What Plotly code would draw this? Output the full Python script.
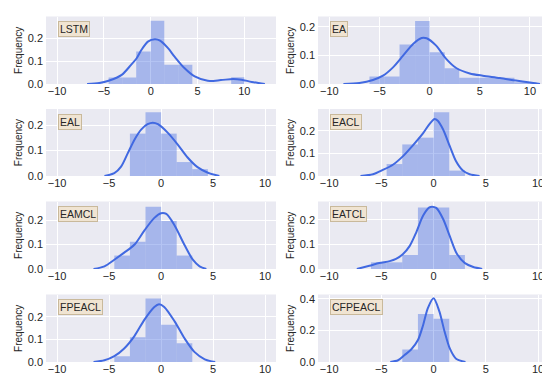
import plotly.graph_objects as go

# ---------------- data ----------------
names = ["LSTM", "EA", "EAL", "EACL", "EAMCL", "EATCL", "FPEACL", "CFPEACL"]

# histogram bin edges / densities
lstm_edges = [-4.5, -3.0, -1.55, 0.0, 1.45, 2.95, 4.45, 8.6, 10.0]
lstm_hist = [0.029, 0.029, 0.142, 0.277, 0.084, 0.084, 0.0, 0.03]
ea_edges = [-6.0, -4.5, -3.0, -1.45, 0.0, 1.5, 2.95, 8.45, 10.65]
ea_hist = [0.026, 0.026, 0.138, 0.22, 0.111, 0.055, 0.022, 0.006]
eal_edges = [-3.0, -1.5, 0.0, 1.5, 3.0, 4.5]
eal_hist = [0.167, 0.251, 0.167, 0.055, 0.027]
eacl_edges = [-4.5, -3.0, -1.5, 0.0, 1.5, 3.0]
eacl_hist = [0.053, 0.14, 0.17, 0.283, 0.024]
eamcl_edges = [-4.5, -3.0, -1.5, 0.0, 1.5, 3.0]
eamcl_hist = [0.055, 0.111, 0.255, 0.196, 0.055]
eatcl_edges = [-6.0, -4.5, -3.0, -1.5, 0.0, 1.5, 3.0]
eatcl_hist = [0.027, 0.027, 0.057, 0.25, 0.25, 0.057]
fpeacl_edges = [-4.5, -3.0, -1.5, 0.0, 1.5, 3.0]
fpeacl_hist = [0.026, 0.11, 0.281, 0.165, 0.083]
cfpeacl_edges = [-3.0, -1.5, 0.0, 1.5]
cfpeacl_hist = [0.079, 0.304, 0.274]

# KDE curves
lstm_kde_x = [-6.8, -5.5, -4.5, -3.1, -2.1, -1.5, -1.0, -0.3, 0.45, 1.0, 1.85, 2.55, 3.6, 4.7, 6.1, 7.5, 8.8, 9.7, 10.8, 12.2]
lstm_kde_y = [0.0, 0.004, 0.014, 0.04, 0.084, 0.113, 0.149, 0.186, 0.196, 0.19, 0.157, 0.12, 0.07, 0.033, 0.014, 0.017, 0.022, 0.019, 0.009, 0.0]
ea_kde_x = [-8.6, -7.0, -5.65, -4.65, -3.65, -2.65, -1.65, -0.8, -0.3, 0.65, 1.65, 2.65, 4.0, 5.3, 7.0, 8.6, 10.0, 11.0]
ea_kde_y = [0.0, 0.0035, 0.014, 0.029, 0.058, 0.099, 0.14, 0.161, 0.16, 0.134, 0.088, 0.056, 0.037, 0.029, 0.021, 0.012, 0.005, 0.0]
eal_kde_x = [-5.45, -4.5, -3.85, -3.2, -2.55, -1.9, -1.3, -0.8, -0.3, 0.65, 1.6, 2.55, 3.5, 4.5, 5.6]
eal_kde_y = [0.0, 0.011, 0.037, 0.09, 0.144, 0.184, 0.204, 0.21, 0.204, 0.17, 0.124, 0.073, 0.035, 0.013, 0.0]
eacl_kde_x = [-7.0, -5.8, -4.85, -3.9, -2.95, -2.0, -1.0, -0.4, 0.1, 0.4, 0.9, 1.55, 2.15, 2.8, 3.45, 4.4]
eacl_kde_y = [0.0, 0.0075, 0.027, 0.05, 0.087, 0.135, 0.19, 0.23, 0.253, 0.245, 0.207, 0.132, 0.065, 0.024, 0.0075, 0.0]
eamcl_kde_x = [-6.5, -5.45, -4.5, -3.55, -2.55, -1.6, -0.65, 0.0, 0.5, 1.3, 2.25, 3.05, 3.7, 4.35]
eamcl_kde_y = [0.0, 0.011, 0.038, 0.067, 0.1, 0.158, 0.209, 0.228, 0.225, 0.178, 0.098, 0.038, 0.011, 0.0]
eatcl_kde_x = [-7.35, -6.15, -5.2, -4.2, -3.6, -2.95, -2.3, -1.65, -1.0, -0.4, -0.15, 0.25, 0.9, 1.55, 2.2, 3.0, 3.8, 4.65]
eatcl_kde_y = [0.0, 0.013, 0.024, 0.032, 0.041, 0.06, 0.093, 0.15, 0.217, 0.25, 0.253, 0.248, 0.204, 0.133, 0.064, 0.024, 0.008, 0.0]
fpeacl_kde_x = [-6.5, -5.45, -4.5, -3.55, -2.55, -1.6, -0.65, -0.2, 0.3, 1.3, 2.25, 3.2, 4.2, 5.2]
fpeacl_kde_y = [0.0, 0.0075, 0.026, 0.06, 0.116, 0.188, 0.244, 0.256, 0.244, 0.18, 0.105, 0.045, 0.012, 0.0]
cfpeacl_kde_x = [-4.15, -3.4, -2.8, -2.15, -1.5, -1.0, -0.55, 0.0, 0.55, 1.05, 1.55, 2.15, 3.05]
cfpeacl_kde_y = [0.0, 0.011, 0.043, 0.079, 0.139, 0.235, 0.342, 0.404, 0.321, 0.193, 0.086, 0.021, 0.0]

x_ticks = [-10, -5, 0, 5, 10]

panels = [
    (lstm_edges, lstm_hist, lstm_kde_x, lstm_kde_y),
    (ea_edges, ea_hist, ea_kde_x, ea_kde_y),
    (eal_edges, eal_hist, eal_kde_x, eal_kde_y),
    (eacl_edges, eacl_hist, eacl_kde_x, eacl_kde_y),
    (eamcl_edges, eamcl_hist, eamcl_kde_x, eamcl_kde_y),
    (eatcl_edges, eatcl_hist, eatcl_kde_x, eatcl_kde_y),
    (fpeacl_edges, fpeacl_hist, fpeacl_kde_x, fpeacl_kde_y),
    (cfpeacl_edges, cfpeacl_hist, cfpeacl_kde_x, cfpeacl_kde_y),
]

# ---------------- layout geometry ----------------
W, H = 550, 376
col_px = [(38, 268), (310, 541)]
row_px = [(8.5, 76), (101, 168), (193.5, 261), (286.5, 354)]
x_ranges = [(-11.19, 13.39), (-11.13, 11.9)] + [(-11.07, 11.05)] * 6
y_tops = [0.296, 0.236, 0.264, 0.297, 0.276, 0.274, 0.299, 0.428]
y_dticks = [0.1] * 7 + [0.2]

FONT = "Liberation Sans, Arial, sans-serif"
TXT = "#262626"
BAR = "rgba(65,105,225,0.4)"
LINE = "rgb(65,105,225)"

fig = go.Figure()
layout = {}
annotations = []
for i, (edges, hist, kx, ky) in enumerate(panels):
    r, c = divmod(i, 2)
    sfx = "" if i == 0 else str(i + 1)
    xa, ya = "x" + sfx, "y" + sfx
    mids = [(a + b) / 2 for a, b in zip(edges[:-1], edges[1:])]
    widths = [b - a for a, b in zip(edges[:-1], edges[1:])]
    fig.add_trace(go.Bar(x=mids, y=hist, width=widths, xaxis=xa, yaxis=ya,
                         marker=dict(color=BAR, line=dict(width=0)),
                         showlegend=False, hoverinfo="skip"))
    fig.add_trace(go.Scatter(x=kx, y=ky, mode="lines", xaxis=xa, yaxis=ya,
                             line=dict(color=LINE, width=2, shape="spline", smoothing=0.8),
                             showlegend=False, hoverinfo="skip"))
    x0, x1 = col_px[c]
    y0, y1 = row_px[r]
    layout["xaxis" + sfx] = dict(
        domain=[x0 / W, x1 / W], range=list(x_ranges[i]), anchor=ya,
        tickvals=x_ticks, showgrid=True, gridcolor="white", gridwidth=1,
        zeroline=False, showline=False, ticks="", ticklabelstandoff=-1,
        tickfont=dict(family=FONT, size=11, color=TXT), automargin=False)
    layout["yaxis" + sfx] = dict(
        domain=[1 - y1 / H, 1 - y0 / H], range=[0, y_tops[i]], anchor=xa,
        dtick=y_dticks[i], tick0=0, tickformat=".1f", showgrid=True,
        gridcolor="white", gridwidth=1, zeroline=False, showline=False, ticks="",
        ticklabelstandoff=2,
        tickfont=dict(family=FONT, size=11, color=TXT), automargin=False,
        title=dict(text="Frequency", font=dict(family=FONT, size=10, color=TXT), standoff=3))
    annotations.append(dict(
        text=names[i], x=0.052, y=0.93, xref=xa + " domain", yref=ya + " domain",
        xanchor="left", yanchor="top", showarrow=False,
        font=dict(family=FONT, size=10.5, color=TXT),
        bgcolor="#F0E4D2", bordercolor="#C9B99B", borderwidth=1, borderpad=1))

fig.update_layout(
    width=W, height=H, autosize=False,
    margin=dict(l=0, r=0, t=0, b=0),
    paper_bgcolor="white", plot_bgcolor="#EAEAF2",
    barmode="overlay", annotations=annotations, **layout)

fig.write_html("out.html")
